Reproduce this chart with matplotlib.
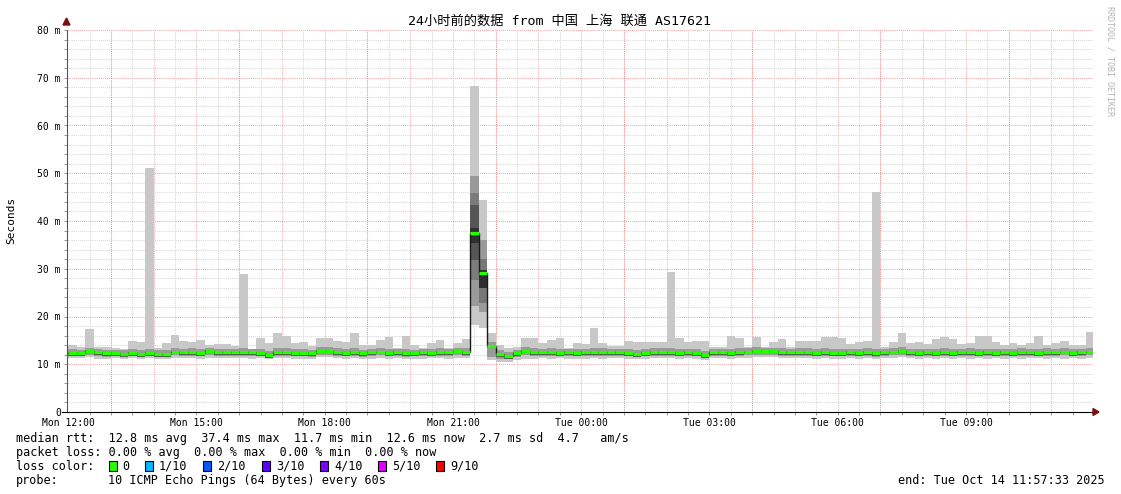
import matplotlib

matplotlib.use("Agg")
import matplotlib.pyplot as plt
from matplotlib.patches import Rectangle, Polygon
import numpy as np

W, H = 1121, 494
MONO = "DejaVu Sans Mono"

# 12-minute consolidated steps, hours since Mon 11:57:33
step_h = 0.2
first_step = 0.0408  # Mon 12:00:00
n_bars = 120
t_edges = first_step + step_h * np.arange(n_bars + 1)

rtt_max = [
    14.0, 13.7, 17.4, 13.6, 13.6, 13.3, 13.2, 14.9, 14.6, 51.0,
    13.5, 14.5, 16.1, 14.9, 14.7, 15.1, 14.0, 14.2, 14.2, 13.8,
    29.0, 13.2, 15.6, 14.4, 16.5, 15.9, 14.5, 14.7, 13.9, 15.6,
    15.6, 14.9, 14.7, 16.5, 14.0, 14.0, 15.0, 15.8, 13.5, 16.0,
    14.0, 13.5, 14.5, 15.1, 13.5, 14.5, 15.3, 68.3, 44.4, 16.5,
    14.0, 13.5, 13.7, 15.6, 15.6, 14.4, 15.1, 15.5, 13.5, 14.5,
    14.3, 17.5, 14.4, 13.8, 13.8, 14.9, 14.6, 14.6, 14.6, 14.6,
    29.3, 15.6, 14.6, 14.9, 14.9, 13.7, 13.7, 15.9, 15.6, 13.7,
    15.8, 13.7, 14.7, 15.3, 13.7, 14.9, 14.9, 14.9, 15.8, 15.8,
    15.6, 14.2, 14.6, 14.9, 46.0, 13.7, 14.6, 16.6, 14.4, 14.7,
    14.3, 15.2, 15.8, 15.2, 14.3, 14.4, 15.9, 15.9, 14.6, 14.0,
    14.5, 14.0, 14.5, 16.0, 14.0, 14.5, 14.8, 14.0, 14.0, 16.8,
]
rtt_min = [
    11.3, 11.4, 11.6, 11.2, 11.0, 11.3, 11.2, 11.3, 11.2, 11.4,
    11.2, 11.2, 11.4, 11.4, 11.3, 11.2, 11.4, 11.3, 11.4, 11.3,
    11.3, 11.2, 11.3, 11.0, 11.3, 11.3, 11.2, 11.2, 11.2, 11.5,
    11.5, 11.3, 11.2, 11.3, 11.1, 11.2, 11.3, 11.2, 11.3, 11.1,
    11.2, 11.1, 11.3, 11.3, 11.2, 11.4, 11.3, 18.2, 17.5, 10.9,
    10.5, 10.5, 10.9, 11.2, 11.2, 11.3, 11.2, 11.3, 11.1, 11.2,
    11.2, 11.3, 11.2, 11.3, 11.3, 11.2, 11.0, 11.1, 11.3, 11.3,
    11.3, 11.2, 11.3, 11.1, 10.9, 11.3, 11.3, 11.1, 11.3, 11.4,
    11.5, 11.5, 11.5, 11.3, 11.3, 11.3, 11.3, 11.1, 11.3, 11.2,
    11.1, 11.3, 11.2, 11.3, 11.1, 11.3, 11.4, 11.5, 11.3, 11.2,
    11.3, 11.2, 11.3, 11.2, 11.3, 11.2, 11.3, 11.2, 11.3, 11.2,
    11.3, 11.2, 11.3, 11.3, 11.2, 11.3, 11.2, 11.3, 11.2, 11.3,
]
rtt_med = [
    12.3, 12.3, 12.8, 12.5, 12.3, 12.3, 12.1, 12.3, 12.1, 12.3,
    12.1, 12.1, 12.6, 12.5, 12.5, 12.3, 12.8, 12.5, 12.5, 12.5,
    12.5, 12.5, 12.3, 11.9, 12.5, 12.5, 12.3, 12.3, 12.3, 12.8,
    12.8, 12.5, 12.3, 12.5, 12.3, 12.5, 12.6, 12.3, 12.5, 12.3,
    12.3, 12.5, 12.3, 12.5, 12.5, 12.8, 12.5, 37.4, 29.2, 13.8,
    12.1, 11.7, 12.3, 12.8, 12.5, 12.5, 12.5, 12.3, 12.5, 12.3,
    12.5, 12.5, 12.5, 12.5, 12.5, 12.3, 12.1, 12.3, 12.5, 12.5,
    12.5, 12.3, 12.5, 12.3, 11.9, 12.5, 12.5, 12.3, 12.5, 12.6,
    12.8, 12.8, 12.8, 12.5, 12.5, 12.5, 12.5, 12.3, 12.5, 12.3,
    12.3, 12.5, 12.3, 12.5, 12.3, 12.5, 12.6, 12.8, 12.5, 12.3,
    12.5, 12.3, 12.5, 12.3, 12.5, 12.5, 12.3, 12.5, 12.3, 12.5,
    12.3, 12.5, 12.5, 12.3, 12.5, 12.5, 12.6, 12.3, 12.5, 12.6,
]
band_lo = [
    11.7, 11.7, 12.0, 11.8, 11.6, 11.7, 11.5, 11.7, 11.5, 11.7,
    11.5, 11.5, 11.9, 11.8, 11.8, 11.7, 12.0, 11.8, 11.8, 11.8,
    11.8, 11.8, 11.7, 11.3, 11.8, 11.8, 11.7, 11.7, 11.6, 12.0,
    12.0, 11.8, 11.7, 11.8, 11.6, 11.8, 11.9, 11.7, 11.8, 11.6,
    11.7, 11.8, 11.7, 11.8, 11.8, 12.0, 11.8, 22.1, 21.0, 11.6,
    11.2, 11.0, 11.6, 12.0, 11.8, 11.8, 11.8, 11.7, 11.8, 11.7,
    11.8, 11.8, 11.8, 11.8, 11.8, 11.7, 11.5, 11.7, 11.8, 11.8,
    11.8, 11.7, 11.8, 11.7, 11.3, 11.8, 11.8, 11.7, 11.8, 11.9,
    12.0, 12.0, 12.0, 11.8, 11.8, 11.8, 11.8, 11.7, 11.8, 11.7,
    11.7, 11.8, 11.7, 11.8, 11.6, 11.8, 11.9, 12.0, 11.8, 11.7,
    11.8, 11.7, 11.8, 11.7, 11.8, 11.8, 11.7, 11.8, 11.7, 11.8,
    11.7, 11.8, 11.8, 11.7, 11.8, 11.8, 11.9, 11.7, 11.8, 11.9,
]
band_hi = [
    13.1, 13.0, 13.5, 13.2, 13.0, 13.0, 12.9, 13.2, 12.9, 13.2,
    12.9, 13.0, 13.4, 13.2, 13.3, 13.1, 13.5, 13.2, 13.2, 13.2,
    13.3, 13.1, 13.1, 12.8, 13.3, 13.3, 13.1, 13.1, 13.0, 13.6,
    13.6, 13.3, 13.1, 13.4, 13.0, 13.2, 13.4, 13.2, 13.2, 13.1,
    13.0, 13.2, 13.1, 13.3, 13.2, 13.5, 13.3, 49.4, 36.0, 14.7,
    12.9, 12.5, 13.0, 13.6, 13.3, 13.2, 13.3, 13.1, 13.2, 13.1,
    13.2, 13.4, 13.3, 13.2, 13.2, 13.1, 12.9, 13.1, 13.3, 13.3,
    13.4, 13.2, 13.2, 13.1, 12.7, 13.2, 13.2, 13.2, 13.3, 13.3,
    13.6, 13.5, 13.5, 13.3, 13.2, 13.3, 13.3, 13.1, 13.3, 13.1,
    13.1, 13.2, 13.1, 13.3, 13.2, 13.2, 13.4, 13.6, 13.2, 13.1,
    13.2, 13.1, 13.3, 13.1, 13.2, 13.3, 13.1, 13.2, 13.1, 13.2,
    13.1, 13.3, 13.2, 13.1, 13.3, 13.2, 13.4, 13.1, 13.2, 13.4,
]
# inner smoke layers of the two spike intervals: bar index -> (lo, hi, shade)
spike_layers = {
    47: [(27.6, 45.9, "#7c7c7c"), (31.8, 43.4, "#565656"), (35.3, 38.6, "#303030")],
    48: [(22.8, 32.0, "#777777"), (25.9, 29.7, "#2e2e2e")],
}

hour_major = [1.04 + 3 * i for i in range(8)]  # 13:00, 16:00, ...
tick_pos = [0.0408 + 3 * i for i in range(8)]
tick_lab = ["Mon 12:00", "Mon 15:00", "Mon 18:00", "Mon 21:00",
            "Tue 00:00", "Tue 03:00", "Tue 06:00", "Tue 09:00"]
loss_colors = ["#26ff00", "#00b8ff", "#0059ff", "#5e00ff", "#7e00ff", "#dd00ff", "#ff0000"]
loss_labels = ["0", "1/10", "2/10", "3/10", "4/10", "5/10", "9/10"]

plt.rcParams["font.family"] = [MONO, "Noto Sans CJK SC"]

fig = plt.figure(figsize=(W / 100, H / 100), dpi=100)
x0, x1, ytop, ybot = 66.5, 1092.5, 30, 412
ax = fig.add_axes([x0 / W, (H - ybot) / H, (x1 - x0) / W, (ybot - ytop) / H])
ax.set_xlim(0, 24)
ax.set_ylim(0, 80)

# grid
dot = (0, (1, 1))
for yv in np.arange(2, 81, 2):
    c = "#f0a8a8" if yv % 10 == 0 else "#d8d8d8"
    ax.axhline(yv, color=c, lw=0.75, ls=dot, zorder=0)
for h in np.arange(0.54, 24, 1.0):
    ax.axvline(h, color="#d8d8d8", lw=0.75, ls=dot, zorder=0)
for h in np.arange(1.04, 24, 1.0):
    c = "#f08c8c" if any(abs(h - m) < 0.01 for m in hour_major) else "#f4b8b8"
    ax.axvline(h, color=c, lw=0.75, ls=dot, zorder=0)

# smoke
left = t_edges[:-1]
ax.bar(left, np.array(rtt_max) - np.array(rtt_min), bottom=rtt_min, width=step_h,
       align="edge", color="#c8c8c8", lw=0, zorder=2)
ax.bar(left, np.array(band_hi) - np.array(band_lo), bottom=band_lo, width=step_h,
       align="edge", color="#9a9a9a", lw=0, zorder=2)
for k, layers in spike_layers.items():
    for lo, hi, c in layers:
        ax.bar(left[k], hi - lo, bottom=lo, width=step_h, align="edge",
               color=c, lw=0, zorder=2)
# dark core right around the median
ax.bar(left, 0.7, bottom=np.array(rtt_med) - 0.5, width=step_h, align="edge",
       color="#555555", lw=0, zorder=2)

# median
ax.stairs(rtt_med, t_edges, baseline=None, color="#1a1a1a", lw=1.0, zorder=3)
ax.hlines(rtt_med, t_edges[:-1], t_edges[1:], color=loss_colors[0], lw=2.3,
          zorder=4, capstyle="butt")

# axes styling
for s in ["top", "right"]:
    ax.spines[s].set_visible(False)
ax.spines["left"].set_color("#555555")
ax.spines["bottom"].set_color("black")
ax.set_yticks(np.arange(0, 81, 10))
ax.set_yticklabels(["0"] + [f"{v} m" for v in range(10, 81, 10)])
ax.set_yticks(np.arange(0, 81, 2), minor=True)
ax.set_xticks(tick_pos)
ax.set_xticklabels(tick_lab)
ax.set_xticks(np.arange(0.54, 24, 0.5), minor=True)
ax.tick_params(axis="both", which="both", length=2, width=0.6, color="#888888",
               labelsize=7, pad=2)
ax.tick_params(axis="x", which="major", length=0, pad=4)

# overlay in pixel coordinates for annotations
ov = fig.add_axes([0, 0, 1, 1], zorder=5)
ov.set_xlim(0, W)
ov.set_ylim(H, 0)
ov.axis("off")
ov.add_patch(Polygon([[63, 25], [70, 25], [66.5, 18]], color="#7a1010"))
ov.add_patch(Polygon([[1093, 408.5], [1093, 415.5], [1099, 412]], color="#7a1010"))
ov.plot([62, 66.5], [412, 412], color="black", lw=0.8)

ov.text(11, 220, "Seconds", rotation=90, ha="center", va="center", fontsize=8)
ov.text(560, 21, "24小时前的数据 from 中国 上海 联通 AS17621", ha="center", va="center",
        fontsize=9.5)
ov.text(1110, 6, "RRDTOOL / TOBI OETIKER", rotation=-90, ha="center", va="top",
        fontsize=6, color="#b4b4b4")

fs = 8.5
ov.text(16, 438, "median rtt:  12.8 ms avg  37.4 ms max  11.7 ms min  12.6 ms now  2.7 ms sd  4.7   am/s",
        va="center", fontsize=fs)
ov.text(16, 452, "packet loss: 0.00 % avg  0.00 % max  0.00 % min  0.00 % now",
        va="center", fontsize=fs)
ov.text(16, 466, "loss color:", va="center", fontsize=fs)
sq_x = [108.5, 145, 203, 262, 320, 378, 436]
for xs, c, lab in zip(sq_x, loss_colors, loss_labels):
    ov.add_patch(Rectangle((xs, 461), 8, 10, facecolor=c, edgecolor="black", lw=0.8))
    ov.text(xs + 14, 466, lab, va="center", fontsize=fs)
ov.text(16, 480, "probe:", va="center", fontsize=fs)
ov.text(108, 480, "10 ICMP Echo Pings (64 Bytes) every 60s", va="center", fontsize=fs)
ov.text(1105, 480, "end: Tue Oct 14 11:57:33 2025", ha="right", va="center", fontsize=fs)

fig.savefig("out.png", dpi=100)
